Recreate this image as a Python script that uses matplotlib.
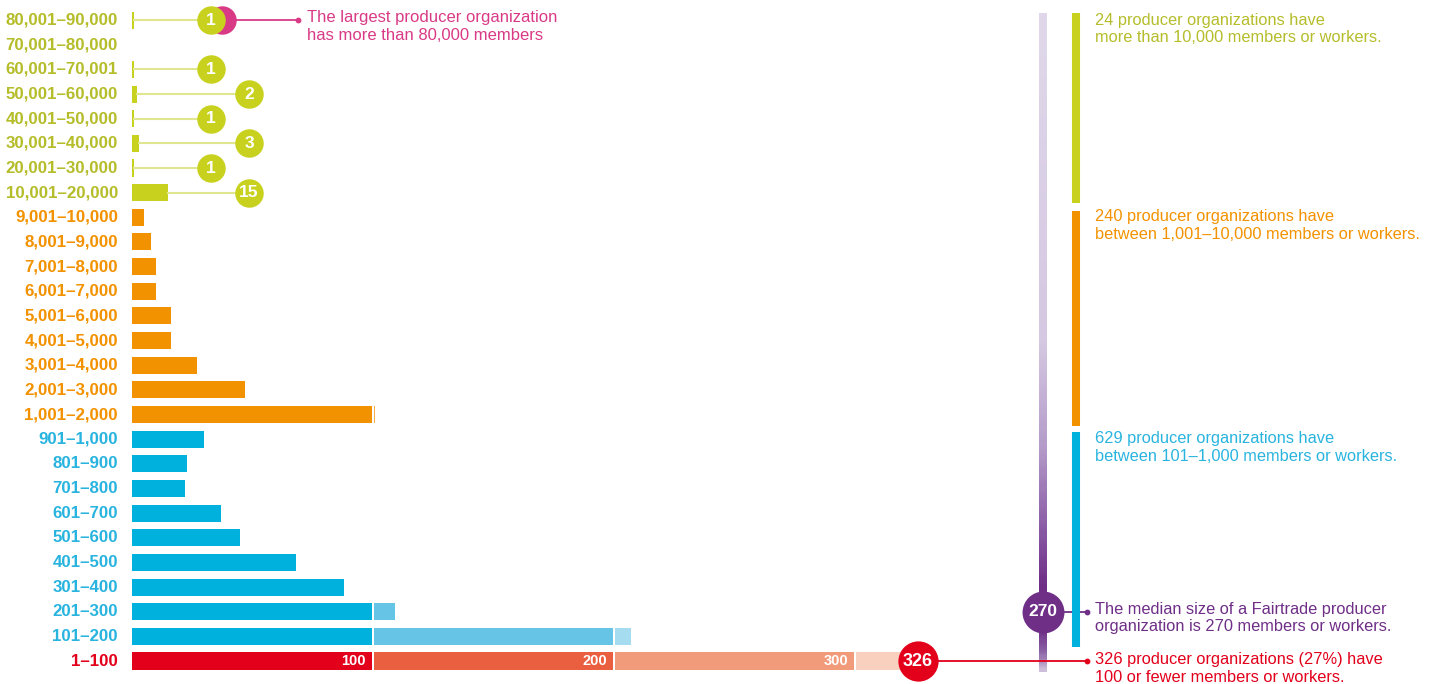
import numpy as np
import matplotlib.pyplot as plt
from matplotlib.colors import LinearSegmentedColormap

# data
labels = ["80,001–90,000", "70,001–80,000", "60,001–70,001", "50,001–60,000",
          "40,001–50,000", "30,001–40,000", "20,001–30,000", "10,001–20,000",
          "9,001–10,000", "8,001–9,000", "7,001–8,000", "6,001–7,000",
          "5,001–6,000", "4,001–5,000", "3,001–4,000", "2,001–3,000",
          "1,001–2,000", "901–1,000", "801–900", "701–800", "601–700",
          "501–600", "401–500", "301–400", "201–300", "101–200", "1–100"]
counts = [1, 0, 1, 2, 1, 3, 1, 15,
          5, 8, 10, 10, 16, 16, 27, 47, 101,
          30, 23, 22, 37, 45, 68, 88, 109, 207,
          326]
groups = ["green"] * 8 + ["orange"] * 9 + ["blue"] * 9 + ["red"]

group_totals = {"green": 24, "orange": 240, "blue": 629}
median_size = 270
smallest_total = 326

GREEN = "#c8d21e"
GREEN_TXT = "#b5bd2b"
ORANGE = "#f39200"
BLUE = "#00b1dd"
BLUE_TXT = "#29b4df"
RED = "#e3001b"
MAGENTA = "#d93a86"
PURPLE = "#6f2f87"

shades = {
    "green": [GREEN],
    "orange": [ORANGE, "#f6ad4c"],
    "blue": [BLUE, "#66c5e6", "#a6dcf0"],
    "red": [RED, "#ea5f40", "#f29b7b", "#f9d0bd"],
}
label_colors = {"green": GREEN_TXT, "orange": ORANGE, "blue": BLUE_TXT, "red": RED}

# pixel layout helpers
W, H = 1433, 684
X0, SX = 132, 2.41          # px of zero, px per organization
Y0, SY = 661, 24.65         # px of bottom row, px per row


def px(xp):
    return (xp - X0) / SX


def py(yp):
    return (Y0 - yp) / SY


plt.rcParams['font.family'] = ['Liberation Sans', 'DejaVu Sans']
fig = plt.figure(figsize=(W / 100, H / 100), dpi=100)
ax = fig.add_axes([0, 0, 1, 1])
ax.set_xlim(px(0), px(W))
ax.set_ylim(py(H), py(0))
ax.axis('off')

n = len(labels)
bar_h = 0.69
gap = 0.9

for i, (lab, c, g) in enumerate(zip(labels, counts, groups)):
    y = n - 1 - i
    ax.text(px(118), y, lab, ha='right', va='center', fontsize=12.2,
            fontweight='bold', color=label_colors[g])
    if c == 0:
        continue
    cols = shades[g]
    k = 0
    while k * 100 < c:
        left = k * 100 + (gap / 2 if k > 0 else 0)
        right = min(c, (k + 1) * 100 - gap / 2) if (k + 1) * 100 < c else c
        col = cols[min(k, len(cols) - 1)]
        ax.barh(y, right - left, left=left, height=bar_h, color=col, linewidth=0)
        if g == "red" and (k + 1) * 100 < c:
            ax.text((k + 1) * 100 - gap - 2, y, str((k + 1) * 100), ha='right',
                    va='center', fontsize=10.5, fontweight='bold', color='white')
        k += 1
    if g == "green":
        cx = px(211) if c == 1 else px(249)
        if i == 0:
            ax.plot([cx, px(298)], [y, y], color=MAGENTA, lw=1.3, zorder=2)
            ax.scatter([px(298)], [y], s=10, color=MAGENTA, zorder=3)
            ax.scatter([cx + 4.6], [y], s=420, color=MAGENTA, lw=0, zorder=3)
        ax.plot([c, cx], [y, y], color="#dfe68f", lw=1.5, zorder=2)
        ax.scatter([cx], [y], s=420, color=GREEN, lw=0, zorder=4)
        ax.text(cx, y, str(c), ha='center', va='center', fontsize=12.5,
                fontweight='bold', color='white', zorder=5)

ax.text(px(307), py(26.5), "The largest producer organization\nhas more than 80,000 members",
        ha='left', va='center', fontsize=12, color=MAGENTA, linespacing=1.17)

# 326 circle and connector
ax.plot([smallest_total, px(1087)], [0, 0], color=RED, lw=1.3, zorder=2)
ax.scatter([px(1087)], [0], s=10, color=RED, zorder=3)
ax.scatter([smallest_total], [0], s=840, color=RED, lw=0, zorder=4)
ax.text(smallest_total, 0, str(smallest_total), ha='center', va='center', fontsize=13,
        fontweight='bold', color='white', zorder=5)

# vertical gradient bar
grad_stops = [(0.0, "#e0d8ea"), (0.5, "#d5c8e2"), (0.66, "#b49bc9"),
              (0.79, "#8858a3"), (0.87, PURPLE), (0.94, PURPLE),
              (0.975, "#8d66a8"), (1.0, "#cdbfdb")]
cmap = LinearSegmentedColormap.from_list("med", grad_stops)
grad = np.linspace(0, 1, 300).reshape(-1, 1)
ax.imshow(grad, cmap=cmap, aspect='auto', interpolation='bilinear',
          extent=[px(1039), px(1047), py(672), py(13)], origin='upper', zorder=1)

ax.plot([px(1043), px(1087)], [py(612), py(612)], color=PURPLE, lw=1.3, zorder=2)
ax.scatter([px(1087)], [py(612)], s=10, color=PURPLE, zorder=3)
ax.scatter([px(1043)], [py(612)], s=910, color=PURPLE, lw=0, zorder=4)
ax.text(px(1043), py(612), str(median_size), ha='center', va='center', fontsize=12.5,
        fontweight='bold', color='white', zorder=5)

# group brackets on the right
bx = px(1076)
ax.vlines(bx, py(203), py(13), color=GREEN, lw=5.8)
ax.vlines(bx, py(426), py(211), color=ORANGE, lw=5.8)
ax.vlines(bx, py(647), py(432), color=BLUE, lw=5.8)

tx = px(1095)
note_kw = dict(ha='left', va='center', fontsize=11.8, linespacing=1.19)
ax.text(tx, py(29), f"{group_totals['green']} producer organizations have\nmore than 10,000 members or workers.",
        color=GREEN_TXT, **note_kw)
ax.text(tx, py(225.5), f"{group_totals['orange']} producer organizations have\nbetween 1,001–10,000 members or workers.",
        color=ORANGE, **note_kw)
ax.text(tx, py(447.5), f"{group_totals['blue']} producer organizations have\nbetween 101–1,000 members or workers.",
        color=BLUE_TXT, **note_kw)
ax.text(tx, py(618), f"The median size of a Fairtrade producer\norganization is {median_size} members or workers.",
        color=PURPLE, **note_kw)
ax.text(tx, py(668.5), f"{smallest_total} producer organizations (27%) have\n100 or fewer members or workers.",
        color=RED, **note_kw)

fig.savefig("out.png", dpi=100)
